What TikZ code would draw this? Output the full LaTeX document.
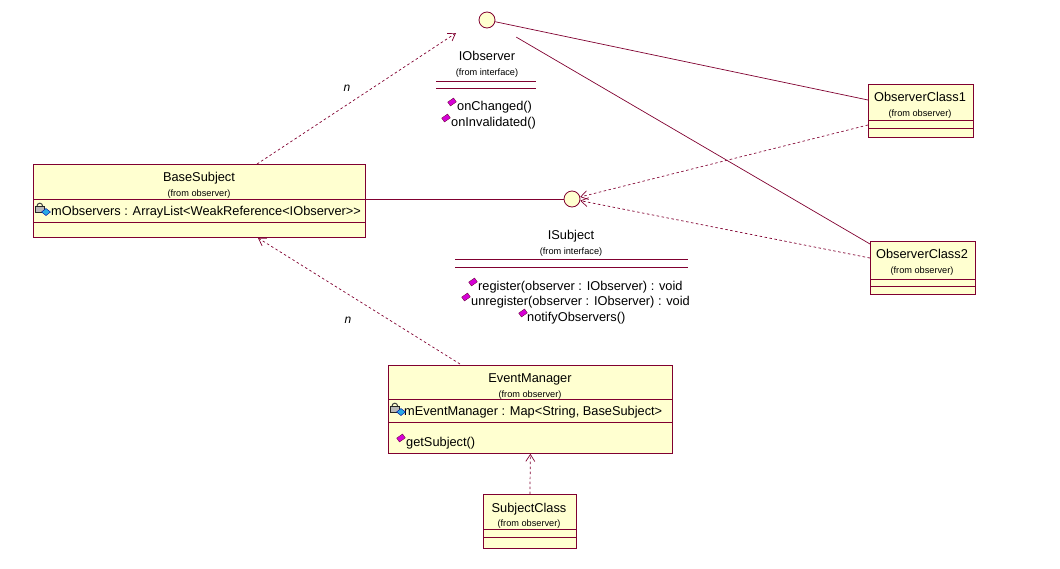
\documentclass[tikz,border=0pt]{standalone}
\usepackage{fontspec}
\setmainfont{Liberation Sans}
\usetikzlibrary{arrows.meta,calc}
\definecolor{rose}{RGB}{128,0,48}
\definecolor{boxfill}{RGB}{255,255,208}
\definecolor{mag}{RGB}{214,0,214}
\definecolor{iconblue}{RGB}{40,170,230}
\newcommand{\nm}{\fontsize{12.8}{15}\selectfont}
\newcommand{\fr}{\fontsize{9.2}{11}\selectfont}
\newcommand{\mb}{\fontsize{12.8}{15}\selectfont}
\begin{document}
\begin{tikzpicture}[x=1pt,y=-1pt,
  clsbox/.style={draw=rose, fill=boxfill, line width=0.8pt, anchor=north west, inner sep=0pt},
  sep/.style={draw=rose, line width=0.8pt},
  iface/.style={circle, draw=rose, fill=boxfill, line width=0.8pt, minimum size=16pt, inner sep=0pt},
  cname/.style={font=\nm, inner sep=0pt, anchor=mid},
  cfrom/.style={font=\fr, inner sep=0pt, anchor=mid},
  member/.style={font=\mb, inner sep=0pt, anchor=mid west},
  assoc/.style={draw=rose, line width=0.7pt},
  dep/.style={draw=rose, line width=0.7pt, dashed, dash pattern=on 2.5pt off 2.5pt, -{Straight Barb[length=7pt,width=9pt]}},
  mult/.style={font=\fontsize{12}{14}\selectfont\itshape, inner sep=0pt}
]
\useasboundingbox (0,0) rectangle (1060,568);
\newcommand{\opicon}[1]{\fill[mag, draw=rose!70!black, line width=0.3pt, rotate around={35:#1}] ($#1+(-3.6,-2.4)$) rectangle ($#1+(3.6,2.4)$);}
\newcommand{\attricon}[1]{%
  \draw[gray!50!black, line width=1pt] ($#1+(-5,-1)$) arc[start angle=180,end angle=360,radius=2.8];
  \fill[gray!55, draw=gray!30!black, line width=0.4pt] ($#1+(-7,-1)$) rectangle ($#1+(2,5)$);
  \fill[iconblue, draw=blue!60!black, line width=0.4pt] ($#1+(-0.5,5)$) -- ($#1+(4,1.5)$) -- ($#1+(8.5,5)$) -- ($#1+(4,8.5)$) -- cycle;}

% interfaces
\node[iface] (iobs) at (487,20) {};
\node[iface] (isub) at (572,199) {};

% IObserver labels
\node[cname] (iobsname) at (487,58) {IObserver};
\node[cfrom] (iobsfrom) at (487,73) {(from interface)};
\draw[sep] (436,81) -- (536,81);
\draw[sep] (436,88) -- (536,88);
\node[member] (m1) at (457,108) {onChanged()};
\node[member] (m2) at (451,124) {onInvalidated()};
\opicon{(452,102)}
\opicon{(446,118)}

% ISubject labels
\node[cname] (isubname) at (571,237) {ISubject};
\node[cfrom] (isubfrom) at (571,252) {(from interface)};
\draw[sep] (455,259) -- (688,259);
\draw[sep] (455,267) -- (688,267);
\node[member] (s1) at (478,288) {register(observer : IObserver) : void};
\node[member] (s2) at (471,303) {unregister(observer : IObserver) : void};
\node[member] (s3) at (527,319) {notifyObservers()};
\opicon{(473,282)}
\opicon{(466,297)}
\opicon{(523,313)}

% BaseSubject
\node[clsbox, minimum width=332pt, minimum height=73pt] (base) at (33,164) {};
\node[cname] at (199,179) {BaseSubject};
\node[cfrom] at (199,194) {(from observer)};
\draw[sep] (33,199) -- (365,199);
\draw[sep] (33,222) -- (365,222);
\node[member] at (51,213) {mObservers : ArrayList<WeakReference<IObserver>{}>};
\attricon{(42,207)}

% EventManager
\node[clsbox, minimum width=284pt, minimum height=88pt] (evm) at (388,365) {};
\node[cname] at (530,380) {EventManager};
\node[cfrom] at (530,395) {(from observer)};
\draw[sep] (388,399) -- (672,399);
\draw[sep] (388,422) -- (672,422);
\node[member] at (404,413) {mEventManager : Map<String, BaseSubject>};
\attricon{(397,407)}
\node[member] at (406,444) {getSubject()};
\opicon{(401,438)}

% SubjectClass
\node[clsbox, minimum width=93pt, minimum height=54pt] (subc) at (483,494) {};
\node[cname] at (529,510) {SubjectClass};
\node[cfrom] at (529,524) {(from observer)};
\draw[sep] (483,529) -- (576,529);
\draw[sep] (483,537) -- (576,537);

% ObserverClass1
\node[clsbox, minimum width=105pt, minimum height=53pt] (oc1) at (868,84) {};
\node[cname] at (920,99) {ObserverClass1};
\node[cfrom] at (920,114) {(from observer)};
\draw[sep] (868,120) -- (973,120);
\draw[sep] (868,128) -- (973,128);

% ObserverClass2
\node[clsbox, minimum width=105pt, minimum height=53pt] (oc2) at (870,241) {};
\node[cname] at (922,256) {ObserverClass2};
\node[cfrom] at (922,271) {(from observer)};
\draw[sep] (870,279) -- (975,279);
\draw[sep] (870,286) -- (975,286);

% connectors
\coordinate (oc1in) at (868,100);
\coordinate (oc1out) at (868,125);
\coordinate (oc2out) at (870,258);
\coordinate (oc2in) at (870,244);
\coordinate (baseTop) at (257,164);
\coordinate (baseBot) at (258,238);
\coordinate (iobsIn) at (456,33);
\coordinate (evmTop) at (460,364);
\coordinate (baseR) at (365,199);

\draw[assoc] (iobs) -- (oc1in);
\draw[assoc, shorten >=34pt] (oc2in) -- (iobs.center);
\draw[assoc] (baseR) -- (isub);
\draw[dep] (oc1out) -- (isub);
\draw[dep] (oc2out) -- (isub);
\draw[dep] (baseTop) -- (iobsIn);
\draw[dep] (evmTop) -- (baseBot);
\draw[dep] (subc.north) -- (evm.south);

\node[mult] at (347,88) {n};
\node[mult] at (348,320) {n};
\end{tikzpicture}
\end{document}
